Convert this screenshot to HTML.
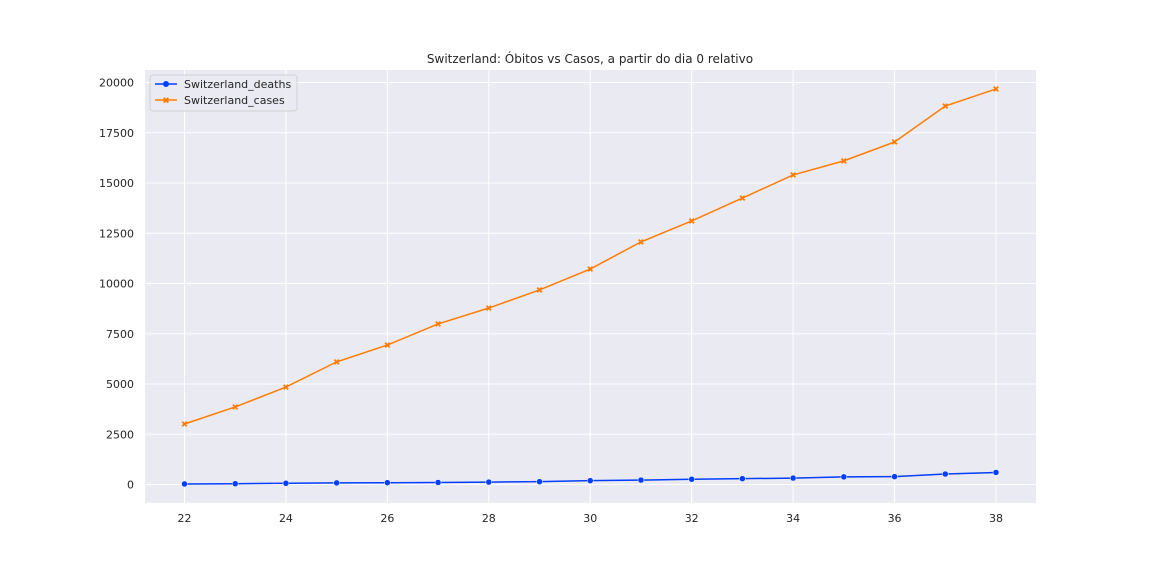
<!DOCTYPE html>
<html><head><meta charset="utf-8"><style>
body{margin:0;background:#fff;}
svg text{font-family:"DejaVu Sans","Liberation Sans",sans-serif;fill:#262626;}
</style></head><body>
<svg id="chart" width="1152" height="576" xmlns="http://www.w3.org/2000/svg">
<rect x="145" y="70" width="891" height="433" fill="#eaeaf2"/>
<g id="grid"></g><g id="ticks"></g><g id="series"></g>
<text x="590" y="63" font-size="12" text-anchor="middle">Switzerland: Óbitos vs Casos, a partir do dia 0 relativo</text>
<g>
<rect x="150" y="75" width="147" height="36" rx="3" fill="#eaeaf2" stroke="#cccccc" opacity="0.8"/>
<g>
<line x1="155" y1="84" x2="177" y2="84" stroke="#023eff" stroke-width="1.5"/><circle cx="166" cy="84" r="3" fill="#023eff"/>
<text x="184" y="88" font-size="11">Switzerland_deaths</text></g>
<g>
<line x1="155" y1="100" x2="177" y2="100" stroke="#ff7c00" stroke-width="1.5"/><text x="166" y="103.5" font-size="9" text-anchor="middle" style="fill:#ff7c00">✖</text>
<text x="184" y="104" font-size="11">Switzerland_cases</text></g>
</g>
</svg>
<script>
const days=[22,23,24,25,26,27,28,29,30,31,32,33,34,35,36,37,38];
const deaths=[27,40,60,80,90,100,120,140,190,220,260,290,320,380,390,520,600];
const cases=[3010,3860,4850,6100,6940,7990,8780,9680,10720,12070,13110,14250,15400,16100,17040,18830,19680];
const xTicks=[22,24,26,28,30,32,34,36,38];
const yTicks=[0,2500,5000,7500,10000,12500,15000,17500,20000];
const NS="http://www.w3.org/2000/svg";
const xs=d=>184.5+(d-22)*(996-184.5)/16;
const ys=v=>484.5-v*(402/20000);
function mk(t,a,p){const e=document.createElementNS(NS,t);for(const k in a)e.setAttribute(k,a[k]);p.appendChild(e);return e;}
const grid=document.getElementById('grid'),ticks=document.getElementById('ticks'),ser=document.getElementById('series');
xTicks.forEach(t=>{const l=mk('line',{x1:xs(t),x2:xs(t),y1:70,y2:503,stroke:'#fff','stroke-width':1},grid);


const tx=mk('text',{x:xs(t),y:522,'font-size':11,'text-anchor':'middle'},ticks);tx.textContent=t;

});
yTicks.forEach(t=>{const l=mk('line',{x1:145,x2:1036,y1:ys(t),y2:ys(t),stroke:'#fff','stroke-width':1},grid);


const tx=mk('text',{x:134,y:ys(t)+4,'font-size':11,'text-anchor':'end'},ticks);tx.textContent=t;

});
function line(vals,color,name){const p=mk('polyline',{points:days.map((d,i)=>xs(d)+','+ys(vals[i])).join(' '),fill:'none',stroke:color,'stroke-width':1.5},ser);

}
line(cases,'#ff7c00','cases');line(deaths,'#023eff','deaths');
days.forEach((d,i)=>{const c=mk('circle',{cx:xs(d),cy:ys(deaths[i]),r:3,fill:'#023eff',stroke:'#fff','stroke-width':0.5},ser);


const x=xs(d),y=ys(cases[i]);const m=mk('path',{d:`M${x-2.3},${y-2.3}L${x+2.3},${y+2.3}M${x-2.3},${y+2.3}L${x+2.3},${y-2.3}`,stroke:'#ff7c00','stroke-width':1.8},ser);

});
</script>
</body></html>
